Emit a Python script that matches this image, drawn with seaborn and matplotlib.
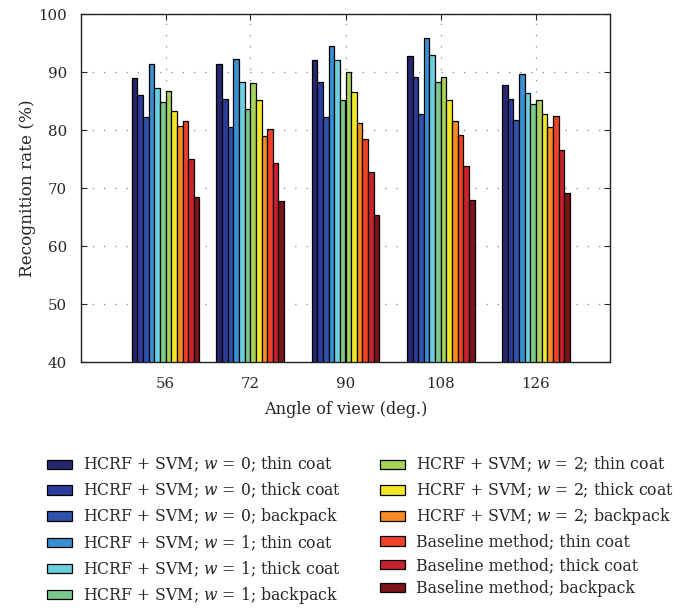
import numpy as np
import pandas as pd
import matplotlib
matplotlib.use("Agg")
import matplotlib.pyplot as plt
import seaborn as sns

# Viewing angles (degrees)
angles = [56, 72, 90, 108, 126]

# Method / condition labels
methods = [
    "HCRF + SVM; $w$ = 0; thin coat",
    "HCRF + SVM; $w$ = 0; thick coat",
    "HCRF + SVM; $w$ = 0; backpack",
    "HCRF + SVM; $w$ = 1; thin coat",
    "HCRF + SVM; $w$ = 1; thick coat",
    "HCRF + SVM; $w$ = 1; backpack",
    "HCRF + SVM; $w$ = 2; thin coat",
    "HCRF + SVM; $w$ = 2; thick coat",
    "HCRF + SVM; $w$ = 2; backpack",
    "Baseline method; thin coat",
    "Baseline method; thick coat",
    "Baseline method; backpack",
]

# Recognition rate (%) per angle, one list per method
w0_thin = [89.0, 91.3, 92.0, 92.8, 87.7]
w0_thick = [86.0, 85.4, 88.2, 89.1, 85.3]
w0_back = [82.2, 80.5, 82.3, 82.7, 81.7]
w1_thin = [91.4, 92.3, 94.5, 95.8, 89.7]
w1_thick = [87.2, 88.2, 92.0, 93.0, 86.3]
w1_back = [84.8, 83.6, 85.1, 88.3, 84.4]
w2_thin = [86.8, 88.1, 90.0, 89.2, 85.1]
w2_thick = [83.3, 85.2, 86.6, 85.1, 82.8]
w2_back = [80.7, 78.9, 81.2, 81.5, 80.6]
base_thin = [81.6, 80.1, 78.4, 79.2, 82.5]
base_thick = [75.0, 74.3, 72.8, 73.8, 76.5]
base_back = [68.5, 67.7, 65.4, 67.9, 69.1]

series = [w0_thin, w0_thick, w0_back, w1_thin, w1_thick, w1_back,
          w2_thin, w2_thick, w2_back, base_thin, base_thick, base_back]

colors = ["#25286e", "#2a3d9a", "#3152aa", "#3a90d2", "#6ccfe0", "#7cc98c",
          "#a8d25a", "#f2e829", "#f58b22", "#ee4127", "#c8222c", "#7a1418"]

rows = []
for m, vals in zip(methods, series):
    for a, v in zip(angles, vals):
        rows.append({"angle": a, "rate": v, "method": m})
df = pd.DataFrame(rows)

sns.set_style("white")
plt.rcParams["font.family"] = ["DejaVu Serif"]
plt.rcParams["mathtext.fontset"] = "dejavuserif"

fig = plt.figure(figsize=(6.97, 6.11), dpi=100)
ax = fig.add_axes([81 / 697, 1 - 362 / 611, (610 - 81) / 697, (362 - 14) / 611])

ax.set_axisbelow(True)
ax.grid(True, linestyle=(0, (1, 8)), color="#888888", linewidth=0.9)

sns.barplot(data=df, x="angle", y="rate", hue="method", hue_order=methods,
            palette=colors, native_scale=True, width=0.8, edgecolor="black",
            linewidth=0.9, saturation=1, errorbar=None, ax=ax, legend=False)

ax.set_xlim(40, 140)
ax.set_ylim(40, 100)
ax.set_xticks(angles)
ax.set_xticklabels([str(a) for a in angles])
ax.set_yticks(range(40, 101, 10))
ax.tick_params(direction="in", length=4, width=0.8, labelsize=10.8,
               top=True, right=True, bottom=True, left=True, pad=10)
ax.tick_params(axis="x", pad=11)
for sp in ax.spines.values():
    sp.set_visible(True)
    sp.set_color("#222222")
    sp.set_linewidth(1.0)

ax.set_xlabel("Angle of view (deg.)", fontsize=11.6, labelpad=7)
ax.set_ylabel("Recognition rate (%)", fontsize=12.2, labelpad=2)

handles = [plt.Rectangle((0, 0), 1, 1, facecolor=c, edgecolor="black", linewidth=0.9)
           for c in colors]
fig.legend(handles, methods, ncol=2, loc="upper left",
           bbox_to_anchor=(33 / 697, 1 - 441 / 611), frameon=False,
           fontsize=11.3, handlelength=1.6, handleheight=0.55,
           labelspacing=0.4, columnspacing=2.45, handletextpad=0.7)

fig.savefig("out.png", dpi=100)
